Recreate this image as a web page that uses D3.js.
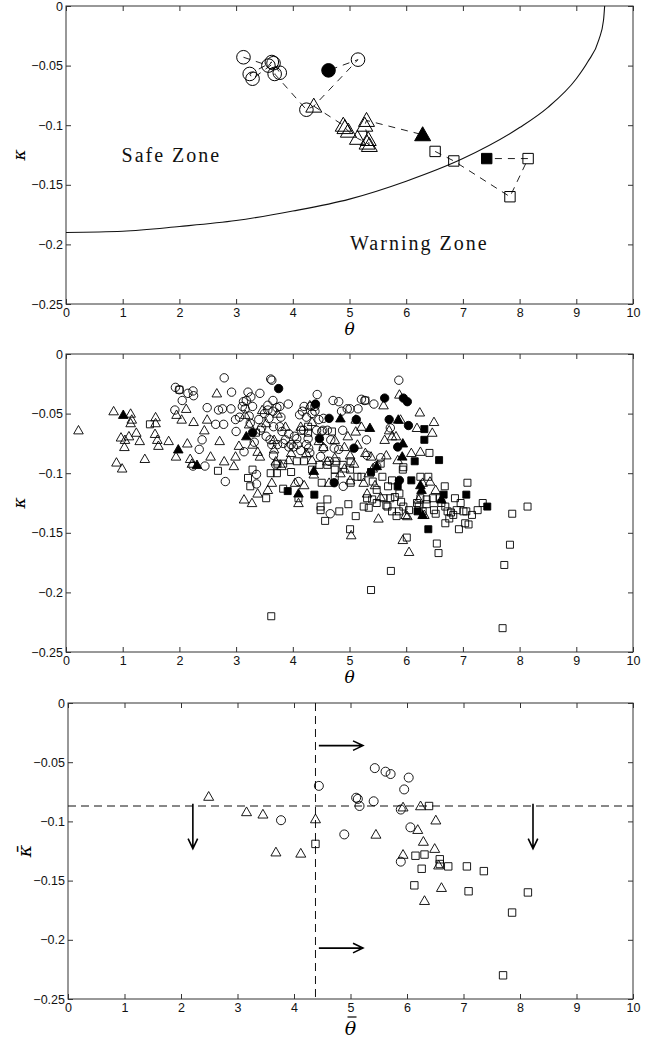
<!DOCTYPE html>
<html><head><meta charset="utf-8">
<script src="https://cdn.jsdelivr.net/npm/d3@7"></script>
<style>body{margin:0;background:#fff} svg{display:block}</style>
</head><body>
<svg id="chart" width="658" height="1041"></svg>
<script>
// ---------- shared tick data ----------
const xTicks = [0,1,2,3,4,5,6,7,8,9,10];
const xTickLabels = ["0","1","2","3","4","5","6","7","8","9","10"];
const yTicks = [-0.25,-0.2,-0.15,-0.1,-0.05,0];
const yTickLabels = ["\u22120.25","\u22120.2","\u22120.15","\u22120.1","\u22120.05","0"];

// ---------- panel 1: trajectory ----------
const trajX     = [3.13,3.57,3.63,3.24,3.29,3.66,3.77,3.68,4.24,4.37,5.15,4.63, 4.89,4.92,4.98,5.14,5.31,5.35,5.33,5.27,5.30,6.29, 6.51,6.84,7.83,8.15,7.42];
const trajY     = [-0.043,-0.050,-0.047,-0.057,-0.061,-0.048,-0.056,-0.057,-0.087,-0.084,-0.045,-0.054, -0.100,-0.102,-0.105,-0.111,-0.115,-0.117,-0.112,-0.100,-0.096,-0.108, -0.122,-0.130,-0.160,-0.128,-0.128];
const trajShape = ["c","c","c","c","c","c","c","c","c","t","c","c", "t","t","t","t","t","t","t","t","t","t", "s","s","s","s","s"];
const trajFill  = [0,0,0,0,0,0,0,0,0,0,0,1, 0,0,0,0,0,0,0,0,0,1, 0,0,0,0,1];
const trajSegments = [[0,1,2,3,4,5,6,7,8,9,10,11],[9,12,13,14,15,16,17,18,19,20,21],[22,23,24,25,26]];
const boundaryX = [0,1,2,3,4,5,6,7,8,8.5,9,9.2,9.4,9.48,9.5];
const boundaryY = [-0.19,-0.189,-0.185,-0.180,-0.172,-0.162,-0.147,-0.128,-0.102,-0.085,-0.061,-0.047,-0.028,-0.012,0];
const zoneLabels = ["Safe Zone","Warning Zone"];
const zoneX = [0.98,5.01];
const zoneY = [-0.131,-0.2045];

// ---------- panel 2: all samples ----------
const triOpenX = [0.22,0.84,0.89,0.97,0.99,1.03,1.04,1.11,1.14,1.14,1.16,1.24,1.30,1.39,1.58,1.58,1.57,1.61,1.63,1.81,1.94,1.95,2.04,2.12,2.14,2.19,2.25,2.22,2.44,2.49,2.55,2.66,2.71,2.79,2.96,2.99,3.05,3.14,3.16,3.23,3.28,3.29,3.38,3.38,3.42,3.56,3.63,3.67,3.70,3.80,3.97,4.04,4.10,4.20,4.24,4.34,4.37,4.46,4.61,4.64,4.74,4.84,4.91,4.97,5.01,5.03,5.08,5.11,5.11,5.21,5.25,5.28,5.31,5.34,5.38,5.41,5.45,5.51,5.55,5.60,5.62,5.65,5.70,5.75,5.82,5.85,5.88,5.90,5.94,5.99,6.02,6.05,6.09,6.19,6.22,6.24,6.25,6.29,6.32,6.42,6.46,6.49,6.52,
  3.46,3.53,3.67,3.73,3.87,3.93,4.14,4.30,4.34,4.54,4.74,4.91,5.01,5.14];
const triOpenY = [-0.064,-0.048,-0.091,-0.070,-0.096,-0.078,-0.072,-0.069,-0.050,-0.058,-0.055,-0.066,-0.073,-0.088,-0.053,-0.058,-0.067,-0.072,-0.077,-0.073,-0.086,-0.051,-0.055,-0.046,-0.075,-0.088,-0.057,-0.092,-0.064,-0.055,-0.086,-0.033,-0.073,-0.090,-0.094,-0.086,-0.077,-0.122,-0.051,-0.059,-0.125,-0.076,-0.117,-0.082,-0.086,-0.114,-0.108,-0.080,-0.090,-0.094,-0.083,-0.108,-0.125,-0.110,-0.083,-0.089,-0.101,-0.073,-0.090,-0.108,-0.072,-0.100,-0.078,-0.069,-0.106,-0.152,-0.092,-0.055,-0.065,-0.061,-0.108,-0.083,-0.117,-0.100,-0.086,-0.096,-0.110,-0.138,-0.120,-0.043,-0.072,-0.085,-0.064,-0.069,-0.069,-0.089,-0.034,-0.055,-0.156,-0.135,-0.136,-0.166,-0.083,-0.062,-0.122,-0.049,-0.082,-0.108,-0.135,-0.107,-0.066,-0.057,-0.114,
  -0.047,-0.058,-0.072,-0.050,-0.061,-0.089,-0.061,-0.043,-0.057,-0.078,-0.087,-0.096,-0.085,-0.076];
const triFillX = [1.01,1.98,2.31,3.18,4.10,4.37,4.84,5.36,5.48,5.86,5.94,5.93,6.25,6.27,6.29,6.62];
const triFillY = [-0.051,-0.080,-0.093,-0.069,-0.117,-0.098,-0.054,-0.062,-0.094,-0.055,-0.075,-0.086,-0.110,-0.114,-0.135,-0.122];
const circOpenX = [1.93,2.00,1.92,2.05,2.15,2.24,2.25,2.24,2.35,2.40,2.45,2.49,2.64,2.69,2.76,2.78,2.79,2.81,2.91,2.92,2.99,3.00,3.11,3.13,3.14,3.18,3.21,3.23,3.25,3.26,3.29,3.32,3.36,3.36,3.42,3.45,3.50,3.56,3.58,3.60,3.61,3.63,3.65,3.65,3.66,3.70,3.72,3.77,3.79,3.81,3.83,3.92,3.93,3.97,4.01,4.07,4.10,4.12,4.14,4.17,4.19,4.20,4.24,4.27,4.28,4.32,4.34,4.39,4.43,4.46,4.49,4.51,4.53,4.54,4.64,4.66,4.71,4.73,4.81,4.86,4.89,4.96,5.15,5.21,5.27,5.30,5.31,5.43,5.48,5.55,5.72,5.87,
  3.06,3.16,3.40,3.43,3.53,3.56,3.63,3.66,3.73,3.77,3.87,3.93,4.03,4.08,4.15,4.24,4.30,4.39,4.42,4.54,4.61,4.67,4.81,5.01,4.88];
const circOpenY = [-0.028,-0.030,-0.047,-0.039,-0.033,-0.031,-0.035,-0.094,-0.080,-0.072,-0.094,-0.045,-0.059,-0.047,-0.046,-0.059,-0.020,-0.107,-0.046,-0.032,-0.055,-0.065,-0.044,-0.040,-0.082,-0.039,-0.032,-0.052,-0.058,-0.036,-0.044,-0.074,-0.101,-0.109,-0.033,-0.062,-0.050,-0.043,-0.054,-0.072,-0.021,-0.022,-0.039,-0.048,-0.061,-0.093,-0.045,-0.044,-0.053,-0.065,-0.075,-0.042,-0.067,-0.076,-0.078,-0.071,-0.107,-0.051,-0.081,-0.048,-0.064,-0.044,-0.053,-0.071,-0.079,-0.044,-0.050,-0.044,-0.034,-0.055,-0.086,-0.065,-0.064,-0.079,-0.090,-0.134,-0.039,-0.079,-0.040,-0.048,-0.111,-0.046,-0.046,-0.038,-0.039,-0.072,-0.085,-0.042,-0.094,-0.087,-0.062,-0.022,
  -0.053,-0.046,-0.055,-0.064,-0.069,-0.047,-0.076,-0.085,-0.076,-0.061,-0.072,-0.078,-0.069,-0.076,-0.064,-0.076,-0.083,-0.048,-0.064,-0.054,-0.064,-0.072,-0.080,-0.046,-0.064];
const circFillX = [3.75,3.29,4.40,4.64,4.47,5.12,5.08,4.73,5.62,5.70,5.85,5.95,6.02,6.04,5.88];
const circFillY = [-0.029,-0.066,-0.042,-0.054,-0.071,-0.055,-0.079,-0.108,-0.037,-0.055,-0.078,-0.037,-0.040,-0.060,-0.106];
const sqOpenX = [1.48,2.00,2.68,3.21,3.25,3.29,3.35,3.53,3.61,3.72,3.83,3.97,4.10,4.27,4.27,4.47,4.49,4.49,4.51,4.57,4.61,4.69,4.74,4.77,4.82,4.88,4.98,5.01,5.02,5.02,5.11,5.14,5.25,5.28,5.31,5.34,5.40,5.48,5.55,5.58,5.60,5.65,5.67,5.72,5.73,5.75,5.80,5.83,5.87,5.88,5.91,5.94,5.95,6.01,5.38,3.62,6.19,6.22,6.25,6.25,6.29,6.36,6.39,6.41,6.47,6.52,6.54,6.57,6.59,6.62,6.68,6.69,6.73,6.76,6.79,6.86,6.89,6.93,7.01,7.04,7.06,7.08,7.10,7.16,7.26,7.35,7.70,7.73,7.83,7.87,8.14,
  3.73,3.83,4.07,4.20,4.34,4.61,4.74,5.01,5.21,5.41,5.48,5.68,5.75,5.95,6.05,6.36,6.49,6.69,6.83,6.96];
const sqOpenY = [-0.059,-0.030,-0.098,-0.104,-0.111,-0.097,-0.066,-0.121,-0.100,-0.100,-0.113,-0.099,-0.121,-0.066,-0.061,-0.093,-0.128,-0.131,-0.108,-0.140,-0.122,-0.065,-0.103,-0.090,-0.132,-0.093,-0.126,-0.147,-0.108,-0.090,-0.136,-0.103,-0.128,-0.039,-0.121,-0.129,-0.122,-0.114,-0.092,-0.103,-0.121,-0.127,-0.128,-0.121,-0.182,-0.106,-0.120,-0.136,-0.132,-0.117,-0.124,-0.097,-0.095,-0.154,-0.198,-0.220,-0.125,-0.128,-0.103,-0.121,-0.132,-0.126,-0.103,-0.083,-0.121,-0.134,-0.159,-0.167,-0.121,-0.125,-0.111,-0.142,-0.132,-0.138,-0.133,-0.121,-0.131,-0.147,-0.132,-0.142,-0.132,-0.108,-0.143,-0.135,-0.131,-0.125,-0.230,-0.177,-0.160,-0.134,-0.128,
  -0.092,-0.092,-0.090,-0.090,-0.097,-0.093,-0.097,-0.097,-0.103,-0.107,-0.125,-0.111,-0.132,-0.128,-0.131,-0.122,-0.131,-0.128,-0.135,-0.125];
const sqFillX = [3.91,4.38,5.38,5.85,6.09,6.15,6.32,6.32,6.20,6.39,6.58,6.66,7.06,7.43];
const sqFillY = [-0.115,-0.118,-0.099,-0.111,-0.106,-0.090,-0.063,-0.072,-0.132,-0.147,-0.089,-0.118,-0.118,-0.128];

// ---------- panel 3: averages ----------
const avgTriX = [2.49,3.16,3.45,3.68,4.12,4.38,5.45,5.93,5.93,6.19,6.24,6.29,6.49,6.51,6.31,6.61,6.56];
const avgTriY = [-0.079,-0.092,-0.094,-0.126,-0.127,-0.098,-0.111,-0.088,-0.128,-0.107,-0.087,-0.117,-0.123,-0.099,-0.167,-0.156,-0.137];
const avgCircX = [3.77,4.44,4.89,5.10,5.13,5.16,5.41,5.43,5.62,5.71,5.89,5.95,6.03,6.06,5.89];
const avgCircY = [-0.099,-0.070,-0.111,-0.080,-0.081,-0.087,-0.083,-0.055,-0.058,-0.060,-0.090,-0.073,-0.063,-0.105,-0.134];
const avgSqX = [4.38,6.39,6.15,6.31,6.26,6.13,6.58,6.58,6.73,7.06,7.09,7.36,8.14,7.86,7.70];
const avgSqY = [-0.119,-0.087,-0.129,-0.128,-0.140,-0.154,-0.132,-0.136,-0.138,-0.138,-0.159,-0.142,-0.160,-0.177,-0.230];
const thresholdKappa = -0.087;
const thresholdTheta = 4.38;
const arrowX1 = [4.44,4.44,2.21,8.23];
const arrowY1 = [-0.036,-0.207,-0.085,-0.085];
const arrowX2 = [5.22,5.22,2.21,8.23];
const arrowY2 = [-0.036,-0.207,-0.123,-0.123];

// ---------- drawing ----------
const svg = d3.select("#chart");
const panels = [
  {L:66, R:633, T:6,   B:304},
  {L:66, R:633, T:354, B:652},
  {L:68, R:633, T:703, B:999}
];
const AX = "#333";

function markerPath(shape, a) {
  if (shape === "t") { const h = a*0.75; return `M0,${-a} L${a},${h} L${-a},${h} Z`; }
  return `M${-a},${-a} H${a} V${a} H${-a} Z`;
}

function drawMarkers(g, xs, ys, shape, filled, x, y, size, sw) {
  const data = xs.map((v,i)=>({x:v, y:ys[i]}));
  if (shape === "c") {
    g.selectAll(null).data(data).join("circle")
      .attr("cx", d=>x(d.x)).attr("cy", d=>y(d.y)).attr("r", size)
      .attr("fill", filled ? "#000" : "none").attr("stroke", "#000").attr("stroke-width", sw);
  } else {
    g.selectAll(null).data(data).join("path")
      .attr("transform", d=>`translate(${x(d.x)},${y(d.y)})`)
      .attr("d", markerPath(shape, size))
      .attr("fill", filled ? "#000" : "none").attr("stroke", "#000").attr("stroke-width", sw)
      .attr("stroke-linejoin","miter");
  }
}

function setupPanel(p, xLabel, yLabel, barred) {
  const x = d3.scaleLinear().domain([0,10]).range([p.L, p.R]);
  const y = d3.scaleLinear().domain([-0.25,0]).range([p.B, p.T]);
  const g = svg.append("g");
  const style = sel => {
    sel.select(".domain").remove();
    sel.selectAll(".tick line").attr("stroke", AX);
    sel.selectAll(".tick text").attr("fill","#111").style("font-family","'Liberation Sans', Arial, sans-serif").style("font-size","12.5px");
  };
  g.append("g").attr("transform",`translate(0,${p.B})`)
    .call(d3.axisBottom(x).tickValues(xTicks).tickFormat((d,i)=>xTickLabels[i]).tickSizeInner(-5).tickSizeOuter(0).tickPadding(4)).call(style);
  g.append("g").attr("transform",`translate(0,${p.T})`)
    .call(d3.axisTop(x).tickValues(xTicks).tickFormat("").tickSizeInner(-5).tickSizeOuter(0)).call(style);
  g.append("g").attr("transform",`translate(${p.L},0)`)
    .call(d3.axisLeft(y).tickValues(yTicks).tickFormat((d,i)=>yTickLabels[i]).tickSizeInner(-5).tickSizeOuter(0).tickPadding(3)).call(style);
  g.append("g").attr("transform",`translate(${p.R},0)`)
    .call(d3.axisRight(y).tickValues(yTicks).tickFormat("").tickSizeInner(-5).tickSizeOuter(0)).call(style);
  g.append("rect").attr("x",p.L).attr("y",p.T).attr("width",p.R-p.L).attr("height",p.B-p.T)
    .attr("fill","none").attr("stroke",AX).attr("stroke-width",1);
  const fam = "'DejaVu Serif', serif";
  const fs = barred ? 19 : 17;
  g.append("text").attr("x",(p.L+p.R)/2).attr("y",p.B + (barred ? 36 : 31))
    .attr("text-anchor","middle").style("font-family",fam).style("font-style","italic").style("font-size",fs+"px").text(xLabel);
  if (barred) {
    const cx = (p.L+p.R)/2 + 1;
    g.append("line").attr("x1", cx-4).attr("x2", cx+5).attr("y1", p.B+18).attr("y2", p.B+18)
      .attr("stroke","#000").attr("stroke-width",1.2);
  }
  g.append("text").attr("transform",`translate(${barred ? 31 : 25},${(p.T+p.B)/2}) rotate(-90)`)
    .attr("text-anchor","middle").style("font-family",fam).style("font-style","italic").style("font-size",fs+"px").text(yLabel);
  return {x, y, g};
}

// Panel 1
{
  const {x, y, g} = setupPanel(panels[0], "\u03B8", "\u03BA", false);
  const line = d3.line().x(d=>x(d[0])).y(d=>y(d[1]));
  const bnd = boundaryX.map((v,i)=>[v, boundaryY[i]]);
  g.append("path").attr("d", d3.line().x(d=>x(d[0])).y(d=>y(d[1])).curve(d3.curveMonotoneX)(bnd))
    .attr("fill","none").attr("stroke","#111").attr("stroke-width",1.1);
  trajSegments.forEach(seg => {
    g.append("path").attr("d", line(seg.map(i=>[trajX[i], trajY[i]])))
      .attr("fill","none").attr("stroke","#222").attr("stroke-width",1).attr("stroke-dasharray","7,6");
  });
  const sizes = {c:6.8, t:8, s:5.2};
  trajX.forEach((v,i)=>{
    drawMarkers(g, [v], [trajY[i]], trajShape[i], trajFill[i]===1, x, y, sizes[trajShape[i]], 1);
  });
  zoneLabels.forEach((t,i)=>{
    g.append("text").attr("x", x(zoneX[i])).attr("y", y(zoneY[i]))
      .style("font-family","'Liberation Serif', serif").style("font-size","20px").style("letter-spacing","2px")
      .attr("fill","#111").text(t);
  });
}

// Panel 2
{
  const {x, y, g} = setupPanel(panels[1], "\u03B8", "\u03BA", false);
  drawMarkers(g, sqOpenX, sqOpenY, "s", false, x, y, 3.5, 0.9);
  drawMarkers(g, circOpenX, circOpenY, "c", false, x, y, 4.2, 0.9);
  drawMarkers(g, triOpenX, triOpenY, "t", false, x, y, 4.8, 0.9);
  drawMarkers(g, sqFillX, sqFillY, "s", true, x, y, 3.5, 0.9);
  drawMarkers(g, circFillX, circFillY, "c", true, x, y, 4.2, 0.9);
  drawMarkers(g, triFillX, triFillY, "t", true, x, y, 4.8, 0.9);
}

// Panel 3
{
  const p = panels[2];
  const {x, y, g} = setupPanel(p, "\u03B8", "\u03BA\u0304", true);
  g.append("line").attr("x1", p.L).attr("x2", p.R).attr("y1", y(thresholdKappa)).attr("y2", y(thresholdKappa))
    .attr("stroke","#111").attr("stroke-width",1).attr("stroke-dasharray","8,5");
  g.append("line").attr("x1", x(thresholdTheta)).attr("x2", x(thresholdTheta)).attr("y1", p.T).attr("y2", p.B)
    .attr("stroke","#111").attr("stroke-width",1).attr("stroke-dasharray","8,5");
  drawMarkers(g, avgSqX, avgSqY, "s", false, x, y, 3.7, 0.9);
  drawMarkers(g, avgCircX, avgCircY, "c", false, x, y, 4.5, 0.9);
  drawMarkers(g, avgTriX, avgTriY, "t", false, x, y, 5, 0.9);
  arrowX1.forEach((v,i)=>{
    const x1 = x(v), y1 = y(arrowY1[i]), x2 = x(arrowX2[i]), y2 = y(arrowY2[i]);
    const ang = Math.atan2(y2-y1, x2-x1), L = 11, A = Math.PI/7;
    const pa = [x2 - L*Math.cos(ang-A), y2 - L*Math.sin(ang-A)];
    const pb = [x2 - L*Math.cos(ang+A), y2 - L*Math.sin(ang+A)];
    g.append("path").attr("d", `M${x1},${y1} L${x2},${y2} M${pa[0]},${pa[1]} L${x2},${y2} L${pb[0]},${pb[1]}`)
      .attr("fill","none").attr("stroke","#000").attr("stroke-width",1.6);
  });
}
</script></body></html>
